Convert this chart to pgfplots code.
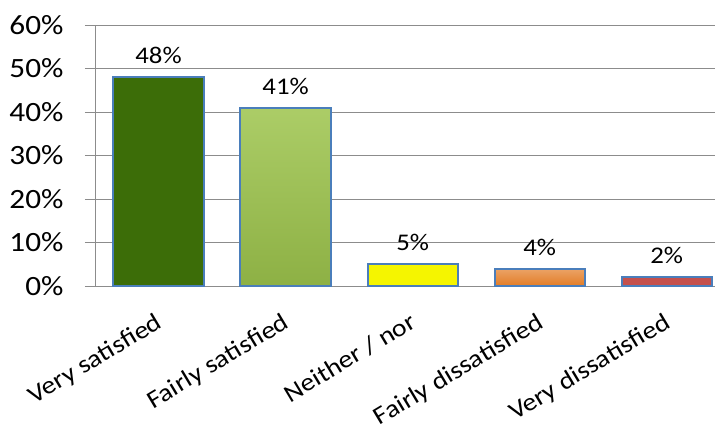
\documentclass[border=0pt]{standalone}
\usepackage{fontspec}
\setmainfont{Carlito}[FakeStretch=1.12]
\usepackage{pgfplots}
\pgfplotsset{compat=1.18}
\definecolor{gridgray}{HTML}{8C8C8C}
\definecolor{edgeblue}{HTML}{4A7EBB}
\definecolor{c1}{HTML}{3C6D08}
\definecolor{c2}{HTML}{9DC44C}
\definecolor{c3}{HTML}{F5F500}
\definecolor{c4}{HTML}{E27C26}
\definecolor{c5}{HTML}{C4504C}
\begin{document}
\begin{tikzpicture}
\begin{axis}[
    scale only axis,
    width=620bp, height=261bp,
    xmin=-0.5, xmax=4.38,
    ymin=0, ymax=60,
    axis lines*=left,
    axis line style={gridgray, line width=1pt},
    ytick={0,10,...,60},
    yticklabel={\pgfmathprintnumber[fixed,precision=0]{\tick}\%},
    /pgf/number format/assume math mode=true,
    ymajorgrids,
    grid style={gridgray, line width=1pt},
    ytick style={gridgray, line width=1pt},
    major tick length=10bp,
    tick align=outside,
    xtick={0,1,2,3,4},
    xticklabels={Very satisfied, Fairly satisfied, Neither / nor, Fairly dissatisfied, Very dissatisfied},
    xtick style={draw=none},
    minor xtick={-0.5,0.5,1.5,2.5,3.5},
    minor tick length=8bp,
    minor x tick style={gridgray, line width=1pt},
    xticklabel style={rotate=31, anchor=north east, font=\fontsize{25}{29}\selectfont, xshift=-8bp, yshift=-8bp},
    yticklabel style={font=\fontsize{28}{32}\selectfont, xshift=-18bp},
    ybar, bar width=0.71,
    nodes near coords={\pgfmathprintnumber[fixed,precision=0]{\pgfplotspointmeta}\%},
    every node near coord/.append style={font=\fontsize{24}{28}\selectfont, anchor=south, yshift=9bp, black},
    clip=false,
]
\addplot[bar shift=0pt, fill=c1, draw=edgeblue, line width=2bp] coordinates {(0,48)};
\addplot[bar shift=0pt, top color=c2!85!white, bottom color=c2!90!black, draw=edgeblue, line width=2bp] coordinates {(1,41)};
\addplot[bar shift=0pt, fill=c3, draw=edgeblue, line width=2bp] coordinates {(2,5)};
\addplot[bar shift=0pt, top color=c4!70!white, bottom color=c4, draw=edgeblue, line width=2bp] coordinates {(3,4)};
\addplot[bar shift=0pt, fill=c5, draw=edgeblue, line width=2bp] coordinates {(4,2)};
\end{axis}
\pgfresetboundingbox
\path[use as bounding box] ([xshift=-95bp,yshift=-146bp]current axis.south west) rectangle ([xshift=10bp,yshift=25bp]current axis.north east);
\end{tikzpicture}
\end{document}
